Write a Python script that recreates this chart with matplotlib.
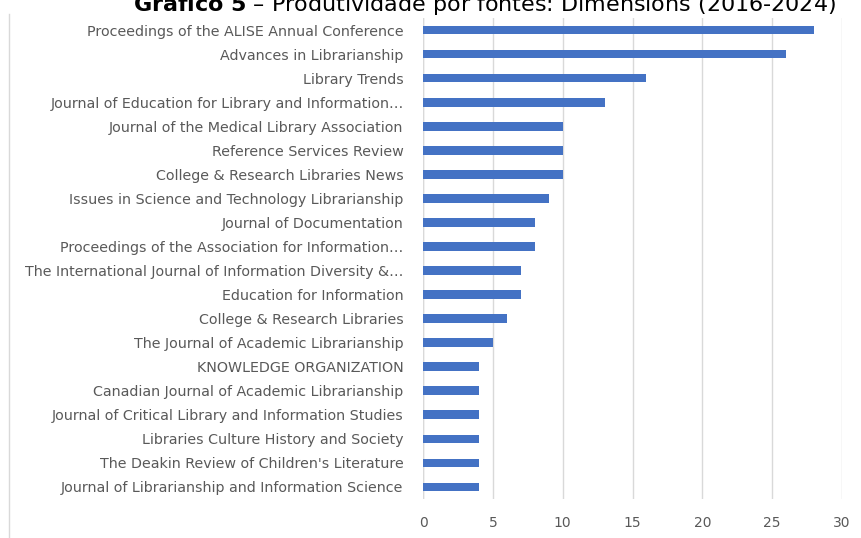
import matplotlib.pyplot as plt
from matplotlib.lines import Line2D

sources = [
    "Proceedings of the ALISE Annual Conference",
    "Advances in Librarianship",
    "Library Trends",
    "Journal of Education for Library and Information…",
    "Journal of the Medical Library Association",
    "Reference Services Review",
    "College & Research Libraries News",
    "Issues in Science and Technology Librarianship",
    "Journal of Documentation",
    "Proceedings of the Association for Information…",
    "The International Journal of Information Diversity &…",
    "Education for Information",
    "College & Research Libraries",
    "The Journal of Academic Librarianship",
    "KNOWLEDGE ORGANIZATION",
    "Canadian Journal of Academic Librarianship",
    "Journal of Critical Library and Information Studies",
    "Libraries Culture History and Society",
    "The Deakin Review of Children's Literature",
    "Journal of Librarianship and Information Science",
]
counts = [28, 26, 16, 13, 10, 10, 10, 9, 8, 8, 7, 7, 6, 5, 4, 4, 4, 4, 4, 4]
x_ticks = [0, 5, 10, 15, 20, 25, 30]

gray = "#595959"

fig = plt.figure(figsize=(8.61, 5.38), dpi=100)
ax = fig.add_axes([423 / 861, 1 - 499 / 538, (842 - 423) / 861, (499 - 18) / 538])

pos = list(range(len(sources)))
ax.barh(pos, counts, height=0.36, color="#4472C4", zorder=3)
ax.set_yticks(pos)
ax.set_yticklabels(sources, fontsize=10.3, color=gray)
ax.set_ylim(len(sources) - 0.5, -0.5)

ax.set_xlim(0, 30)
ax.set_xticks(x_ticks)
ax.set_xticklabels([str(t) for t in x_ticks], fontsize=10, color=gray)
ax.grid(axis="x", color="#d9d9d9", linewidth=1, zorder=0)
ax.tick_params(axis="x", length=0, pad=12)
ax.tick_params(axis="y", length=0, pad=14)
for s in ax.spines.values():
    s.set_visible(False)
ax.axvline(0, color="#d9d9d9", linewidth=1, zorder=1)

# chart frame edge
fig.add_artist(Line2D([9 / 861, 9 / 861], [0, 1 - 14 / 538], color="#d9d9d9", linewidth=1))

fig.text(485 / 861, 1 - 11 / 538, r"$\bf{Gráfico\ 5}$ – Produtividade por fontes: Dimensions (2016-2024)",
         ha="center", va="baseline", fontsize=16, color="black")

plt.savefig("out.png", dpi=100)
